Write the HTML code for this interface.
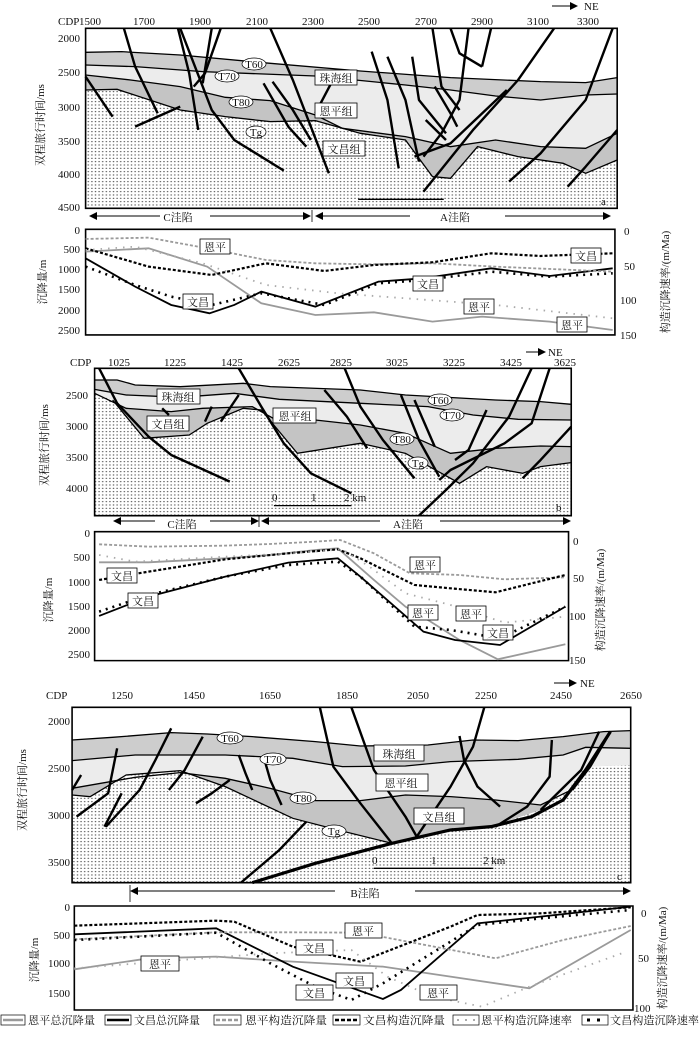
<!DOCTYPE html>
<html><head><meta charset="utf-8"><style>
html,body{margin:0;padding:0;background:#fff}
svg{display:block}
text{font-family:"Liberation Serif","Noto Serif CJK SC","Noto Sans CJK SC",serif;font-size:11px;fill:#111}
.f{fill:none;stroke:#000;stroke-width:2.4;vector-effect:non-scaling-stroke;stroke-linejoin:round}
.h{fill:none;stroke:#000;stroke-width:1.3;vector-effect:non-scaling-stroke}
.bx{fill:none;stroke:#000;stroke-width:1.6;vector-effect:non-scaling-stroke}
.gs{fill:none;stroke:#9a9a9a;stroke-width:1.8;vector-effect:non-scaling-stroke}
.bs{fill:none;stroke:#000;stroke-width:1.8;vector-effect:non-scaling-stroke}
.gd{fill:none;stroke:#9a9a9a;stroke-width:1.8;stroke-dasharray:3 2;vector-effect:non-scaling-stroke}
.bd{fill:none;stroke:#000;stroke-width:2.2;stroke-dasharray:3 2;vector-effect:non-scaling-stroke}
.gp{fill:none;stroke:#aaa;stroke-width:1.8;stroke-dasharray:1.5 6;vector-effect:non-scaling-stroke}
.bp{fill:none;stroke:#000;stroke-width:2.6;stroke-dasharray:2 5;vector-effect:non-scaling-stroke}
.zh{fill:#cdcdcd}.ep{fill:#ececec}.wc{fill:#c4c4c4}.bm{fill:url(#dots)}
.lb{fill:#fff;stroke:#000;stroke-width:0.8}
.el{fill:#fff;stroke:#000;stroke-width:0.7}
</style></head><body>
<svg width="700" height="1038" viewBox="0 0 700 1038" xmlns="http://www.w3.org/2000/svg">
<defs>
<pattern id="dots" patternUnits="userSpaceOnUse" width="8" height="10"><rect width="8" height="10" fill="#fff"/><ellipse cx="4" cy="5" rx="1.8" ry="1.3" fill="#222"/></pattern>
<marker id="ah" markerWidth="8" markerHeight="8" refX="7" refY="4" orient="auto" markerUnits="userSpaceOnUse"><path d="M0,0 L8,4 L0,8 z" fill="#000"/></marker>
</defs>

<!-- ================= PANEL A ================= -->
<g transform="scale(0.4505,0.3333)">
<rect x="190" y="85" width="1180" height="540" fill="#fff"/>
<polygon class="zh" points="190,157 270,155 400,165 600,190 800,213 1000,233 1200,245 1300,248 1370,233 1370,625 190,625"/>
<polygon class="ep" points="190,195 300,200 450,215 700,228 900,255 1000,270 1100,288 1200,300 1300,285 1370,282 1370,625 190,625"/>
<polygon class="wc" points="190,225 290,240 400,260 500,292 600,302 700,345 760,385 900,410 1000,440 1100,420 1200,440 1300,445 1370,400 1370,625 190,625"/>
<polygon class="bm" points="190,270 260,268 400,330 500,350 600,365 700,362 800,400 900,420 960,530 1000,535 1060,440 1150,470 1250,490 1300,520 1370,480 1370,625 190,625"/>
<polyline class="h" points="190,157 270,155 400,165 600,190 800,213 1000,233 1200,245 1300,248 1370,233"/>
<polyline class="h" points="190,195 300,200 450,215 700,228 900,255 1000,270 1100,288 1200,300 1300,285 1370,282"/>
<polyline class="h" points="190,225 290,240 400,260 500,292 600,302 700,345 760,385 900,410 1000,440 1100,420 1200,440 1300,445 1370,400"/>
<polyline class="h" points="190,270 260,268 400,330 500,350 600,365 700,362 800,400 900,420 960,530 1000,535 1060,440 1150,470 1250,490 1300,520 1370,480"/>
<polyline class="f" points="275,85 300,200 350,340"/>
<polyline class="f" points="395,85 420,220 440,390"/>
<polyline class="f" points="470,85 450,250"/>
<polyline class="f" points="490,85 455,220 430,260"/>
<polyline class="f" points="600,85 650,240 730,520"/>
<polyline class="f" points="585,250 640,380 680,440"/>
<polyline class="f" points="605,245 650,330 690,420"/>
<polyline class="f" points="190,230 250,350"/>
<polyline class="f" points="300,380 400,320"/>
<polyline class="f" points="400,85 470,330 520,420 630,512"/>
<polyline class="f" points="825,155 860,300 885,505"/>
<polyline class="f" points="860,170 900,300 930,485"/>
<polyline class="f" points="915,170 930,300 990,400"/>
<polyline class="f" points="960,85 980,260 1020,330"/>
<polyline class="f" points="1000,85 1020,160 1070,200"/>
<polyline class="f" points="1040,85 1020,300 980,400 940,470"/>
<polyline class="f" points="1090,85 1070,200"/>
<polyline class="f" points="1230,85 1150,240 1050,390 940,575"/>
<polyline class="f" points="1360,85 1300,300 1200,460 1130,545"/>
<polyline class="f" points="1370,390 1300,500 1260,560"/>
<polyline class="f" points="1125,270 1000,430 920,470"/>
<polyline class="f" points="735,250 700,340"/>
<polyline class="f" points="965,260 1000,340 1015,380"/>
<polyline class="f" points="945,360 990,420"/>
<polyline class="h" points="795,598 985,598"/>
<rect class="bx" x="190" y="85" width="1180" height="540"/>
<rect class="bx" x="190" y="688" width="1175" height="317" fill="#fff"/>
<polyline class="gs" points="190,755 330,745 460,800 580,910 700,945 830,937 960,965 1070,950 1220,965 1360,990"/>
<polyline class="bs" points="190,775 300,860 380,915 465,940 520,915 580,875 700,920 840,845 940,835 1090,805 1220,828 1360,805"/>
<polyline class="gd" points="190,717 330,713 460,745 590,780 700,790 820,793 960,790 1100,800 1360,815"/>
<polyline class="bd" points="190,745 330,800 470,825 590,790 720,813 830,795 960,787 1090,760 1200,768 1360,760"/>
<polyline class="gp" points="190,750 300,740 450,790 590,855 750,880 900,895 1100,915 1360,955"/>
<polyline class="bp" points="190,800 300,855 380,890 470,915 580,880 720,915 840,850 940,840 1090,815 1220,830 1360,820"/>
</g>
<line x1="552" y1="6" x2="577" y2="6" stroke="#000" stroke-width="1" marker-end="url(#ah)"/>
<text x="584" y="10" font-size="10">NE</text>
<text x="58" y="25" font-size="11">CDP</text>
<g font-size="11" text-anchor="middle">
<text x="90" y="25">1500</text><text x="144" y="25">1700</text><text x="200" y="25">1900</text><text x="257" y="25">2100</text><text x="313" y="25">2300</text><text x="369" y="25">2500</text><text x="426" y="25">2700</text><text x="482" y="25">2900</text><text x="538" y="25">3100</text><text x="588" y="25">3300</text>
</g>
<g font-size="11" text-anchor="end">
<text x="80" y="42">2000</text><text x="80" y="76">2500</text><text x="80" y="111">3000</text><text x="80" y="145">3500</text><text x="80" y="178">4000</text><text x="80" y="211">4500</text>
</g>
<text transform="translate(44,125) rotate(-90)" text-anchor="middle" font-size="13">双程旅行时间/ms</text>
<ellipse class="el" cx="254" cy="64" rx="12" ry="6"/><text x="254" y="68" text-anchor="middle" font-size="10">T60</text>
<ellipse class="el" cx="227" cy="76" rx="12" ry="6"/><text x="227" y="80" text-anchor="middle" font-size="10">T70</text>
<ellipse class="el" cx="241" cy="102" rx="12" ry="6"/><text x="241" y="106" text-anchor="middle" font-size="10">T80</text>
<ellipse class="el" cx="256" cy="132" rx="10" ry="6"/><text x="256" y="136" text-anchor="middle" font-size="10">Tg</text>
<rect class="lb" x="315" y="70" width="42" height="15"/><text x="336" y="82" text-anchor="middle">珠海组</text>
<rect class="lb" x="315" y="103" width="42" height="15"/><text x="336" y="115" text-anchor="middle">恩平组</text>
<rect class="lb" x="323" y="141" width="42" height="15"/><text x="344" y="153" text-anchor="middle">文昌组</text>
<text x="601" y="205" font-size="9">a</text>
<line x1="160" y1="216" x2="90" y2="216" stroke="#000" stroke-width="1" marker-end="url(#ah)"/>
<line x1="210" y1="216" x2="310" y2="216" stroke="#000" stroke-width="1" marker-end="url(#ah)"/>
<text x="178" y="221" text-anchor="middle">C洼陷</text>
<line x1="312" y1="210" x2="312" y2="222" stroke="#000" stroke-width="0.8"/>
<line x1="410" y1="216" x2="316" y2="216" stroke="#000" stroke-width="1" marker-end="url(#ah)"/>
<line x1="505" y1="216" x2="610" y2="216" stroke="#000" stroke-width="1" marker-end="url(#ah)"/>
<text x="455" y="221" text-anchor="middle">A洼陷</text>
<g font-size="11" text-anchor="end">
<text x="80" y="234">0</text><text x="80" y="253">500</text><text x="80" y="273">1000</text><text x="80" y="293">1500</text><text x="80" y="314">2000</text><text x="80" y="334">2500</text>
</g>
<g font-size="11">
<text x="624" y="235">0</text><text x="624" y="270">50</text><text x="620" y="304">100</text><text x="620" y="339">150</text>
</g>
<text transform="translate(46,282) rotate(-90)" text-anchor="middle" font-size="13">沉降量/m</text>
<text transform="translate(669,282) rotate(-90)" text-anchor="middle" font-size="12">构造沉降速率/(m/Ma)</text>
<g text-anchor="middle">
<rect class="lb" x="200" y="239" width="30" height="15"/><text x="215" y="251">恩平</text>
<rect class="lb" x="571" y="248" width="30" height="15"/><text x="586" y="260">文昌</text>
<rect class="lb" x="413" y="276" width="30" height="15"/><text x="428" y="288">文昌</text>
<rect class="lb" x="183" y="294" width="30" height="15"/><text x="198" y="306">文昌</text>
<rect class="lb" x="464" y="299" width="30" height="15"/><text x="479" y="311">恩平</text>
<rect class="lb" x="557" y="317" width="30" height="15"/><text x="572" y="329">恩平</text>
</g>

<!-- ================= PANEL B ================= -->
<g transform="translate(0,340) scale(0.4505,0.3333)">
<rect x="210" y="85" width="1058" height="442" fill="#fff"/>
<polygon class="zh" points="210,120 260,120 300,135 400,140 540,130 600,140 800,150 900,165 1100,180 1200,185 1268,193 1268,527 210,527"/>
<polygon class="ep" points="210,148 280,165 400,172 520,160 620,178 800,190 950,200 1050,225 1150,238 1268,240 1268,527 210,527"/>
<polygon class="wc" points="210,160 280,205 380,215 450,205 560,200 620,245 700,240 800,255 900,280 1000,340 1100,325 1200,318 1268,320 1268,527 210,527"/>
<polygon class="bm" points="210,160 250,180 320,295 420,285 460,250 540,205 580,210 660,340 800,310 900,340 980,400 1020,430 1080,380 1160,400 1200,380 1268,368 1268,527 210,527"/>
<polyline class="h" points="210,120 260,120 300,135 400,140 540,130 600,140 800,150 900,165 1100,180 1200,185 1268,193"/>
<polyline class="h" points="210,148 280,165 400,172 520,160 620,178 800,190 950,200 1050,225 1150,238 1268,240"/>
<polyline class="h" points="210,160 280,205 380,215 450,205 560,200 620,245 700,240 800,255 900,280 1000,340 1100,325 1200,318 1268,320"/>
<polyline class="h" points="250,180 320,295 420,285 460,250 540,205 580,210 660,340 800,310 900,340 980,400 1020,430 1080,380 1160,400 1200,380 1268,368"/>
<polyline class="f" points="220,85 260,190 330,290 380,345 510,425"/>
<polyline class="f" points="530,85 580,200 630,310 690,400 780,460"/>
<polyline class="f" points="765,85 800,200 850,300 920,415"/>
<polyline class="f" points="720,150 770,230 815,325"/>
<polyline class="f" points="890,165 930,300 975,410"/>
<polyline class="f" points="920,180 965,320"/>
<polyline class="f" points="1180,85 1130,230 1050,370 990,450 930,527"/>
<polyline class="f" points="1220,85 1180,250 1120,310 1000,390 975,420"/>
<polyline class="f" points="1080,210 1040,330 1010,360"/>
<polyline class="f" points="1268,260 1200,360 1160,415"/>
<polyline class="f" points="360,205 375,225"/>
<polyline class="f" points="470,200 455,245"/>
<polyline class="f" points="530,165 490,245"/>
<polyline class="h" points="608,497 780,497"/>
<rect class="bx" x="210" y="85" width="1058" height="442"/>
<rect class="bx" x="210" y="575" width="1052" height="387" fill="#fff"/>
<polyline class="gs" points="220,667 330,667 500,655 600,645 700,630 750,625 830,720 900,800 950,840 1020,900 1105,958 1255,913"/>
<polyline class="bs" points="220,828 330,770 500,710 640,668 750,655 800,710 940,875 1010,900 1110,915 1255,800"/>
<polyline class="gd" points="220,613 330,620 500,617 600,612 700,605 755,600 830,640 910,700 1020,705 1120,718 1255,712"/>
<polyline class="bd" points="220,720 330,695 500,658 640,640 750,628 800,655 920,735 1000,745 1100,757 1255,705"/>
<polyline class="gp" points="220,645 300,665 500,650 650,640 760,628 820,680 900,760 1000,795 1120,848 1255,830"/>
<polyline class="bp" points="220,815 330,765 500,710 640,675 750,665 800,710 920,860 1000,870 1110,895 1255,800"/>
</g>
<line x1="526" y1="352" x2="545" y2="352" stroke="#000" stroke-width="1" marker-end="url(#ah)"/>
<text x="548" y="356" font-size="10">NE</text>
<text x="70" y="366" font-size="11">CDP</text>
<g font-size="11" text-anchor="middle">
<text x="119" y="366">1025</text><text x="175" y="366">1225</text><text x="232" y="366">1425</text><text x="289" y="366">2625</text><text x="341" y="366">2825</text><text x="397" y="366">3025</text><text x="454" y="366">3225</text><text x="511" y="366">3425</text><text x="565" y="366">3625</text>
</g>
<g font-size="11" text-anchor="end">
<text x="88" y="399">2500</text><text x="88" y="430">3000</text><text x="88" y="461">3500</text><text x="88" y="492">4000</text>
</g>
<text transform="translate(48,445) rotate(-90)" text-anchor="middle" font-size="12">双程旅行时间/ms</text>
<rect class="lb" x="157" y="389" width="43" height="15"/><text x="178" y="401" text-anchor="middle">珠海组</text>
<rect class="lb" x="147" y="416" width="42" height="15"/><text x="168" y="428" text-anchor="middle">文昌组</text>
<rect class="lb" x="273" y="408" width="43" height="15"/><text x="295" y="420" text-anchor="middle">恩平组</text>
<ellipse class="el" cx="440" cy="400" rx="12" ry="6"/><text x="440" y="404" text-anchor="middle" font-size="10">T60</text>
<ellipse class="el" cx="452" cy="415" rx="12" ry="6"/><text x="452" y="419" text-anchor="middle" font-size="10">T70</text>
<ellipse class="el" cx="402" cy="439" rx="12" ry="6"/><text x="402" y="443" text-anchor="middle" font-size="10">T80</text>
<ellipse class="el" cx="418" cy="463" rx="10" ry="6"/><text x="418" y="467" text-anchor="middle" font-size="10">Tg</text>
<g font-size="9"><text x="272" y="501">0</text><text x="311" y="501">1</text><text x="344" y="501">2 km</text></g>
<text x="556" y="511" font-size="9">b</text>
<line x1="155" y1="521" x2="114" y2="521" stroke="#000" stroke-width="1" marker-end="url(#ah)"/>
<line x1="210" y1="521" x2="258" y2="521" stroke="#000" stroke-width="1" marker-end="url(#ah)"/>
<text x="182" y="528" text-anchor="middle">C洼陷</text>
<line x1="259" y1="515" x2="259" y2="527" stroke="#000" stroke-width="0.8"/>
<line x1="380" y1="521" x2="262" y2="521" stroke="#000" stroke-width="1" marker-end="url(#ah)"/>
<line x1="440" y1="521" x2="570" y2="521" stroke="#000" stroke-width="1" marker-end="url(#ah)"/>
<text x="408" y="528" text-anchor="middle">A洼陷</text>
<g font-size="11" text-anchor="end">
<text x="90" y="537">0</text><text x="90" y="561">500</text><text x="90" y="586">1000</text><text x="90" y="610">1500</text><text x="90" y="634">2000</text><text x="90" y="658">2500</text>
</g>
<g font-size="11">
<text x="573" y="545">0</text><text x="573" y="582">50</text><text x="569" y="620">100</text><text x="569" y="664">150</text>
</g>
<text transform="translate(52,600) rotate(-90)" text-anchor="middle" font-size="13">沉降量/m</text>
<text transform="translate(604,600) rotate(-90)" text-anchor="middle" font-size="12">构造沉降速率/(m/Ma)</text>
<g text-anchor="middle">
<rect class="lb" x="107" y="568" width="30" height="15"/><text x="122" y="580">文昌</text>
<rect class="lb" x="128" y="593" width="30" height="15"/><text x="143" y="605">文昌</text>
<rect class="lb" x="410" y="557" width="30" height="15"/><text x="425" y="569">恩平</text>
<rect class="lb" x="408" y="605" width="30" height="15"/><text x="423" y="617">恩平</text>
<rect class="lb" x="456" y="606" width="30" height="15"/><text x="471" y="618">恩平</text>
<rect class="lb" x="483" y="625" width="30" height="15"/><text x="498" y="637">文昌</text>
</g>

<!-- ================= PANEL C ================= -->
<g transform="translate(0,660) scale(0.4505,0.3333)">
<rect x="160" y="142" width="1240" height="526" fill="#fff"/>
<polygon class="zh" points="160,240 250,232 380,218 460,222 560,230 700,245 800,258 950,255 1050,240 1150,242 1250,230 1340,215 1400,212 1400,668 160,668"/>
<polygon class="ep" points="160,302 300,285 500,285 650,295 760,320 900,318 1000,305 1150,298 1250,285 1300,262 1400,265 1400,668 160,668"/>
<polygon class="wc" points="160,385 300,352 400,338 500,355 600,385 700,422 800,422 900,405 1000,410 1100,420 1200,435 1260,395 1300,320 1400,315 1400,668 160,668"/>
<polygon class="bm" points="160,405 200,410 280,345 400,332 500,380 650,475 750,510 870,550 950,520 1000,505 1100,495 1200,450 1260,390 1300,320 1400,315 1400,668 160,668"/>
<polyline class="h" points="160,240 250,232 380,218 460,222 560,230 700,245 800,258 950,255 1050,240 1150,242 1250,230 1340,215 1400,212"/>
<polyline class="h" points="160,302 300,285 500,285 650,295 760,320 900,318 1000,305 1150,298 1250,285 1300,262 1400,265"/>
<polyline class="h" points="160,385 300,352 400,338 500,355 600,385 700,422 800,422 900,405 1000,410 1100,420 1200,435 1260,395"/>
<polyline class="h" points="160,405 200,410 280,345 400,332 500,380 650,475 750,510 870,550"/>
<polyline class="f" points="710,142 740,320 800,430 870,550"/>
<polyline class="f" points="780,142 830,330 900,470 925,530"/>
<polyline class="f" points="1075,142 1050,260 1000,380 960,460 925,530"/>
<polyline class="f" points="1020,228 1030,300 1060,380 1110,440"/>
<polyline class="f" points="1225,240 1220,350 1170,440 1100,500"/>
<polyline class="f" points="1330,215 1290,330 1230,410 1200,450"/>
<polyline class="f" points="1355,215 1310,320 1270,390"/>
<polyline class="f" style="stroke-width:3.2" points="560,668 700,610 870,550 1000,510 1090,500 1180,470 1250,420 1300,330 1355,215"/>
<polyline class="f" points="680,485 620,570 535,668"/>
<polyline class="f" points="180,345 160,390"/>
<polyline class="f" points="260,265 240,400 170,470"/>
<polyline class="f" points="270,400 232,500"/>
<polyline class="f" points="380,205 345,300 310,390 235,500"/>
<polyline class="f" points="450,230 410,330 375,390"/>
<polyline class="f" points="510,360 470,400 435,430"/>
<polyline class="f" points="530,285 545,340 560,390"/>
<polyline class="f" points="585,290 600,360 625,435"/>
<polyline class="h" points="830,625 1095,625"/>
<rect class="bx" x="160" y="142" width="1240" height="526"/>
</g>
<g transform="translate(0,900) scale(0.4505,0.3333)">
<rect class="bx" x="165" y="18" width="1240" height="312" fill="#fff"/>
<polyline class="gs" points="165,208 330,175 480,170 650,185 850,200 1000,230 1175,265 1400,90"/>
<polyline class="bs" points="165,103 480,85 650,200 850,297 890,270 1060,70 1200,50 1400,20"/>
<polyline class="gd" points="165,118 480,97 650,97 800,98 1100,175 1250,120 1400,78"/>
<polyline class="bd" points="165,77 480,62 520,65 650,140 800,185 1000,80 1060,45 1200,40 1400,22"/>
<polyline class="gp" points="165,205 480,172 600,160 780,150 860,230 960,290 1070,320 1175,260 1380,160"/>
<polyline class="bp" points="165,120 480,98 600,190 700,260 780,300 850,250 970,150 1060,75 1200,55 1400,30"/>
</g>
<line x1="554" y1="683" x2="576" y2="683" stroke="#000" stroke-width="1" marker-end="url(#ah)"/>
<text x="580" y="687" font-size="10">NE</text>
<text x="46" y="699" font-size="11">CDP</text>
<g font-size="11" text-anchor="middle">
<text x="122" y="699">1250</text><text x="194" y="699">1450</text><text x="270" y="699">1650</text><text x="347" y="699">1850</text><text x="418" y="699">2050</text><text x="486" y="699">2250</text><text x="561" y="699">2450</text><text x="631" y="699">2650</text>
</g>
<g font-size="11" text-anchor="end">
<text x="70" y="725">2000</text><text x="70" y="772">2500</text><text x="70" y="819">3000</text><text x="70" y="866">3500</text>
</g>
<text transform="translate(26,790) rotate(-90)" text-anchor="middle" font-size="12">双程旅行时间/ms</text>
<ellipse class="el" cx="230" cy="738" rx="13" ry="6"/><text x="230" y="742" text-anchor="middle" font-size="10">T60</text>
<ellipse class="el" cx="273" cy="759" rx="13" ry="6"/><text x="273" y="763" text-anchor="middle" font-size="10">T70</text>
<ellipse class="el" cx="303" cy="798" rx="13" ry="6"/><text x="303" y="802" text-anchor="middle" font-size="10">T80</text>
<ellipse class="el" cx="334" cy="831" rx="12" ry="6"/><text x="334" y="835" text-anchor="middle" font-size="10">Tg</text>
<rect class="lb" x="374" y="745" width="50" height="16"/><text x="399" y="758" text-anchor="middle">珠海组</text>
<rect class="lb" x="376" y="774" width="52" height="17"/><text x="401" y="787" text-anchor="middle">恩平组</text>
<rect class="lb" x="414" y="808" width="50" height="16"/><text x="439" y="821" text-anchor="middle">文昌组</text>
<g font-size="7"><text x="372" y="864">0</text><text x="431" y="864">1</text><text x="483" y="864">2 km</text></g>
<text x="617" y="880" font-size="9">c</text>
<line x1="130" y1="885" x2="130" y2="902" stroke="#000" stroke-width="0.8"/>
<line x1="335" y1="891" x2="131" y2="891" stroke="#000" stroke-width="1" marker-end="url(#ah)"/>
<line x1="415" y1="891" x2="630" y2="891" stroke="#000" stroke-width="1" marker-end="url(#ah)"/>
<text x="365" y="897" text-anchor="middle">B洼陷</text>
<g font-size="11" text-anchor="end">
<text x="70" y="911">0</text><text x="70" y="939">500</text><text x="70" y="967">1000</text><text x="70" y="997">1500</text>
</g>
<g font-size="11">
<text x="641" y="917">0</text><text x="638" y="962">50</text><text x="634" y="1012">100</text>
</g>
<text transform="translate(38,960) rotate(-90)" text-anchor="middle" font-size="13">沉降量/m</text>
<text transform="translate(666,958) rotate(-90)" text-anchor="middle" font-size="12">构造沉降速率/(m/Ma)</text>
<g text-anchor="middle">
<rect class="lb" x="345" y="923" width="37" height="15"/><text x="363" y="935">恩平</text>
<rect class="lb" x="296" y="940" width="37" height="15"/><text x="314" y="952">文昌</text>
<rect class="lb" x="141" y="956" width="38" height="15"/><text x="160" y="968">恩平</text>
<rect class="lb" x="336" y="973" width="37" height="15"/><text x="354" y="985">文昌</text>
<rect class="lb" x="296" y="985" width="37" height="15"/><text x="314" y="997">文昌</text>
<rect class="lb" x="420" y="985" width="37" height="15"/><text x="438" y="997">恩平</text>
</g>
<!-- legend -->
<g font-size="10.5">
<rect x="1" y="1015" width="24" height="10" fill="#fff" stroke="#000" stroke-width="0.7"/><line x1="3" y1="1020" x2="23" y2="1020" stroke="#999" stroke-width="2.5"/><text x="28" y="1024" textLength="67" lengthAdjust="spacingAndGlyphs">恩平总沉降量</text>
<rect x="105" y="1015" width="26" height="10" fill="#fff" stroke="#000" stroke-width="0.7"/><line x1="107" y1="1020" x2="129" y2="1020" stroke="#000" stroke-width="2.5"/><text x="134" y="1024" textLength="66" lengthAdjust="spacingAndGlyphs">文昌总沉降量</text>
<rect x="214" y="1015" width="27" height="10" fill="#fff" stroke="#000" stroke-width="0.7"/><line x1="216" y1="1020" x2="239" y2="1020" stroke="#999" stroke-width="2.5" stroke-dasharray="4 2"/><text x="245" y="1024" textLength="82" lengthAdjust="spacingAndGlyphs">恩平构造沉降量</text>
<rect x="333" y="1015" width="27" height="10" fill="#fff" stroke="#000" stroke-width="0.7"/><line x1="335" y1="1020" x2="358" y2="1020" stroke="#000" stroke-width="2.5" stroke-dasharray="4 2"/><text x="363" y="1024" textLength="82" lengthAdjust="spacingAndGlyphs">文昌构造沉降量</text>
<rect x="453" y="1015" width="26" height="10" fill="#fff" stroke="#000" stroke-width="0.7"/><line x1="457" y1="1020" x2="477" y2="1020" stroke="#aaa" stroke-width="2" stroke-dasharray="2 6"/><text x="481" y="1024" textLength="91" lengthAdjust="spacingAndGlyphs">恩平构造沉降速率</text>
<rect x="582" y="1015" width="26" height="10" fill="#fff" stroke="#000" stroke-width="0.7"/><line x1="587" y1="1020" x2="606" y2="1020" stroke="#000" stroke-width="3" stroke-dasharray="3 7"/><text x="610" y="1024" textLength="89" lengthAdjust="spacingAndGlyphs">文昌构造沉降速率</text>
</g>
</svg>
</body></html>
